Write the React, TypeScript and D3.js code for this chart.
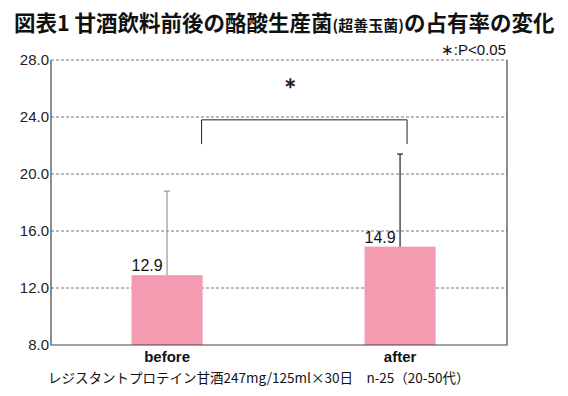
import React, { useEffect, useRef } from "react";
import * as d3 from "d3";

const categories = ["before", "after"];
const means = [12.9, 14.9];
const errTops = [18.8, 21.4];
const errColors = ["#999", "#222"];
const yTicks = [8, 12, 16, 20, 24, 28];

export default function App() {
  const svgRef = useRef<SVGSVGElement>(null);

  useEffect(() => {
    if (!svgRef.current) return;
    document.body.style.margin = "0";
    const svg = d3.select(svgRef.current);
    svg.selectAll("*").remove();

    const W = 568, H = 396;
    const left = 51, right = 507, top = 60, bottom = 345;
    const font = "'Liberation Sans', Arial, 'Noto Sans CJK JP', sans-serif";

    const x = d3.scaleBand().domain(categories).range([left, right])
      .paddingInner(0.695).paddingOuter(0.326).align(0.53);
    const y = d3.scaleLinear().domain([8, 28]).range([bottom, top]);

    svg.attr("width", W).attr("height", H).style("display", "block");
    svg.append("rect").attr("width", W).attr("height", H).attr("fill", "#fff");

    // Title
    const title = svg.append("text")
      .attr("x", 14).attr("y", 31)
      .style("font-family", "'Noto Sans CJK JP', sans-serif")
      .style("font-weight", "bold")
      .style("font-size", "21.5px")
      .attr("fill", "#111");
    title.append("tspan").text("図表1 甘酒飲料前後の酪酸生産菌");
    title.append("tspan").style("font-size", "15px").text("(超善玉菌)");
    title.append("tspan").text("の占有率の変化");

    svg.append("text")
      .attr("x", right - 1).attr("y", 55)
      .attr("text-anchor", "end")
      .style("font-family", font).style("font-size", "15px")
      .attr("fill", "#111")
      .text("∗:P<0.05");

    // Grid lines
    yTicks.filter(t => t > 8).forEach(t => {
      svg.append("line")
        .attr("x1", left).attr("x2", right)
        .attr("y1", y(t)).attr("y2", y(t))
        .attr("stroke", "#777").attr("stroke-width", 1)
        .attr("stroke-dasharray", "3,2");
    });

    // Y tick labels
    yTicks.forEach(t => {
      svg.append("text")
        .attr("x", left - 2).attr("y", y(t) + 5)
        .attr("text-anchor", "end")
        .style("font-family", font).style("font-size", "15px")
        .attr("fill", "#222")
        .text(t.toFixed(1));
    });

    // Bars
    categories.forEach((c, i) => {
      const bx = x(c)!;
      const cx = bx + x.bandwidth() / 2;
      svg.append("rect")
        .attr("x", bx).attr("y", y(means[i]))
        .attr("width", x.bandwidth()).attr("height", y(8) - y(means[i]))
        .attr("fill", "#f49ab1");

      svg.append("line")
        .attr("x1", cx).attr("x2", cx)
        .attr("y1", y(means[i])).attr("y2", y(errTops[i]))
        .attr("stroke", errColors[i]).attr("stroke-width", 1.2);
      svg.append("line")
        .attr("x1", cx - 3).attr("x2", cx + 3)
        .attr("y1", y(errTops[i])).attr("y2", y(errTops[i]))
        .attr("stroke", errColors[i]).attr("stroke-width", 1.2);

      svg.append("text")
        .attr("x", bx).attr("y", y(means[i]) - 4)
        .style("font-family", font).style("font-size", "16px")
        .attr("fill", "#111")
        .text(means[i].toFixed(1));

      svg.append("text")
        .attr("x", cx).attr("y", bottom + 17)
        .attr("text-anchor", "middle")
        .style("font-family", font).style("font-size", "15px")
        .style("font-weight", "bold")
        .attr("fill", "#111")
        .text(c);
    });

    // Axes frame
    svg.append("path")
      .attr("d", `M${left},${top}V${bottom}H${right}V${top}`)
      .attr("fill", "none").attr("stroke", "#444").attr("stroke-width", 1.2);

    // Significance bracket
    const b0 = x(categories[0])! + x.bandwidth() - 1;
    const b1 = x(categories[1])! + x.bandwidth() / 2 + 7;
    const by = y(23.8), bEnd = y(22.1);
    svg.append("path")
      .attr("d", `M${b0},${bEnd}V${by}H${b1}V${bEnd}`)
      .attr("fill", "none").attr("stroke", "#222").attr("stroke-width", 1);
    svg.append("text")
      .attr("x", (b0 + b1) / 2 - 14).attr("y", 88)
      .attr("text-anchor", "middle")
      .style("font-family", font).style("font-size", "15px")
      .style("font-weight", "bold")
      .attr("fill", "#222")
      .text("∗");

    svg.append("text")
      .attr("x", 48).attr("y", 383)
      .style("font-family", "'Noto Sans CJK JP', sans-serif").style("font-size", "13.5px")
      .attr("fill", "#111")
      .text("レジスタントプロテイン甘酒247mg/125ml×30日　n-25（20-50代）");
  }, []);

  return <svg ref={svgRef} />;
}
